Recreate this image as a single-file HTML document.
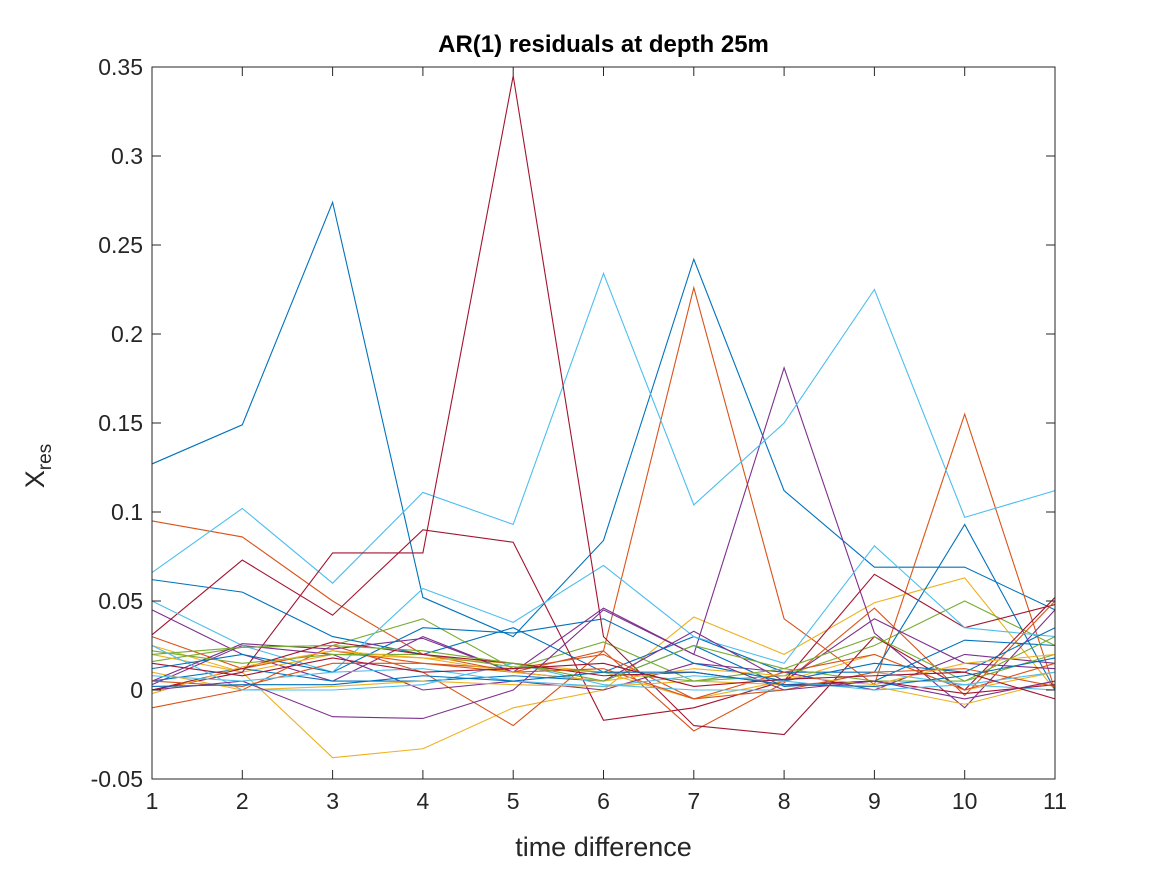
<!DOCTYPE html>
<html><head><meta charset="utf-8"><style>
body{margin:0;background:#fff}
svg{display:block;font-family:"Liberation Sans",sans-serif}
</style></head><body>
<svg id="chart" width="1167" height="875" viewBox="0 0 1167 875"></svg>
<script>
const xTicks=[1,2,3,4,5,6,7,8,9,10,11];
const yTicks=[-0.05,0,0.05,0.1,0.15,0.2,0.25,0.3,0.35];
const yTickLabels=["-0.05","0","0.05","0.1","0.15","0.2","0.25","0.3","0.35"];
const colors=["#0072BD","#D95319","#EDB120","#7E2F8E","#77AC30","#4DBEEE","#A2142F"];
const s01=[0.127,0.149,0.274,0.052,0.030,0.084,0.242,0.112,0.069,0.069,0.045];
const s02=[0.095,0.086,0.050,0.020,0.010,0.022,0.226,0.040,0.003,0.155,0.000];
const s03=[0.025,0.010,-0.038,-0.033,-0.010,0.000,0.041,0.020,0.049,0.063,0.000];
const s04=[0.045,0.020,0.005,0.030,0.010,0.046,0.020,0.181,0.032,-0.010,0.045];
const s05=[0.016,0.024,0.025,0.040,0.012,0.027,0.005,0.008,0.025,0.050,0.025];
const s06=[0.066,0.102,0.060,0.111,0.093,0.234,0.104,0.150,0.225,0.097,0.112];
const s07=[0.031,0.073,0.042,0.090,0.083,-0.017,-0.010,0.005,0.065,0.035,0.048];
const s08=[0.062,0.055,0.030,0.020,0.035,0.010,0.030,0.010,0.010,0.093,0.000];
const s09=[-0.010,0.000,0.025,0.010,-0.020,0.022,-0.023,0.004,0.046,-0.003,0.050];
const s10=[0.020,0.010,0.020,0.018,0.015,0.010,-0.005,0.005,0.020,0.000,0.010];
const s11=[0.003,0.025,0.020,0.000,0.005,0.000,0.015,0.010,0.000,0.020,0.015];
const s12=[0.050,0.025,0.010,0.057,0.038,0.070,0.030,0.015,0.081,0.035,0.030];
const s13=[0.000,0.010,0.077,0.077,0.345,0.030,-0.020,-0.025,0.030,0.000,0.052];
const s14=[0.005,0.012,0.005,0.005,0.008,0.005,0.025,0.002,0.005,0.028,0.025];
const s15=[0.030,0.012,0.022,0.015,0.012,0.020,-0.005,0.010,0.020,0.000,0.015];
const s16=[0.010,0.000,0.002,0.005,0.003,0.002,0.005,0.003,0.002,-0.008,0.005];
const s17=[0.005,0.026,0.023,0.029,0.010,0.005,0.033,0.005,0.040,0.015,0.012];
const s18=[0.022,0.015,0.020,0.020,0.013,0.010,0.005,0.012,0.005,0.005,0.020];
const s19=[0.025,0.000,0.000,0.003,0.015,0.003,0.000,0.000,0.010,0.003,0.000];
const s20=[0.000,0.012,0.027,0.020,0.015,0.008,0.010,0.003,0.005,-0.002,0.003];
const s21=[0.012,0.020,0.010,0.035,0.032,0.040,0.015,0.005,0.015,0.010,0.035];
const s22=[0.005,0.002,0.015,0.015,0.010,0.012,-0.005,0.000,0.010,0.012,0.002];
const s23=[-0.002,0.013,0.022,0.018,0.010,0.005,0.012,0.008,0.003,0.015,0.020];
const s24=[0.000,0.005,-0.015,-0.016,0.000,0.045,0.020,0.000,0.005,-0.005,0.005];
const s25=[0.020,0.024,0.025,0.022,0.015,0.005,0.025,0.012,0.030,0.005,0.030];
const s26=[0.008,0.005,0.010,0.012,0.005,0.002,0.008,0.005,0.000,0.003,0.010];
const s27=[0.015,0.008,0.018,0.010,0.012,0.015,0.002,0.006,0.008,0.010,-0.005];
const s28=[0.002,0.003,0.003,0.008,0.005,0.010,0.010,0.003,0.002,0.008,0.018];
const series=[s01,s02,s03,s04,s05,s06,s07,s08,s09,s10,s11,s12,s13,s14,s15,s16,s17,s18,s19,s20,s21,s22,s23,s24,s25,s26,s27,s28];
const seriesColorIdx=[0,1,2,3,4,5,6,0,1,2,3,5,6,0,1,2,3,4,5,6,0,1,2,3,4,5,6,0];

const NS="http://www.w3.org/2000/svg";
const svg=document.getElementById('chart');
const L=152,R=1055,T=67,B=779;
const xs=v=>L+(v-1)/10*(R-L);
const ys=v=>B-(v+0.05)/0.4*(B-T);
function mk(t,a){const e=document.createElementNS(NS,t);for(const k in a)e.setAttribute(k,a[k]);svg.appendChild(e);return e;}

const bg=mk('rect',{x:L,y:T,width:R-L,height:B-T,fill:'#fff'});



series.forEach((s,i)=>{
  const p=mk('polyline',{points:s.map((v,j)=>xs(xTicks[j])+','+ys(v)).join(' '),fill:'none',stroke:colors[seriesColorIdx[i]],'stroke-width':1.1});
  
  
});

const box=mk('rect',{x:L,y:T,width:R-L,height:B-T,fill:'none',stroke:'#262626','stroke-width':1});



xTicks.forEach(v=>{
  const x=xs(v);
  mk('line',{x1:x,y1:B,x2:x,y2:B-9,stroke:'#262626'});
  mk('line',{x1:x,y1:T,x2:x,y2:T+9,stroke:'#262626'});
  const t=mk('text',{x:x,y:B+30,'text-anchor':'middle','font-size':23,fill:'#262626'});
  t.textContent=v;
  
  
});
yTicks.forEach((v,i)=>{
  const y=ys(v);
  mk('line',{x1:L,y1:y,x2:L+9,y2:y,stroke:'#262626'});
  mk('line',{x1:R,y1:y,x2:R-9,y2:y,stroke:'#262626'});
  const t=mk('text',{x:L-9,y:y+8,'text-anchor':'end','font-size':23,fill:'#262626'});
  t.textContent=yTickLabels[i];
  
  
});
const title=mk('text',{x:(L+R)/2,y:52,'text-anchor':'middle','font-size':24,'font-weight':'bold',fill:'#000'});
title.textContent='AR(1) residuals at depth 25m';


const xl=mk('text',{x:(L+R)/2,y:856,'text-anchor':'middle','font-size':27,fill:'#262626'});
xl.textContent='time difference';


const yl=mk('text',{x:0,y:0,'text-anchor':'middle','font-size':27,fill:'#262626',transform:'translate(44,466) rotate(-90)'});
yl.innerHTML='X<tspan font-size="19" dy="7">res</tspan>';


</script>
</body></html>
